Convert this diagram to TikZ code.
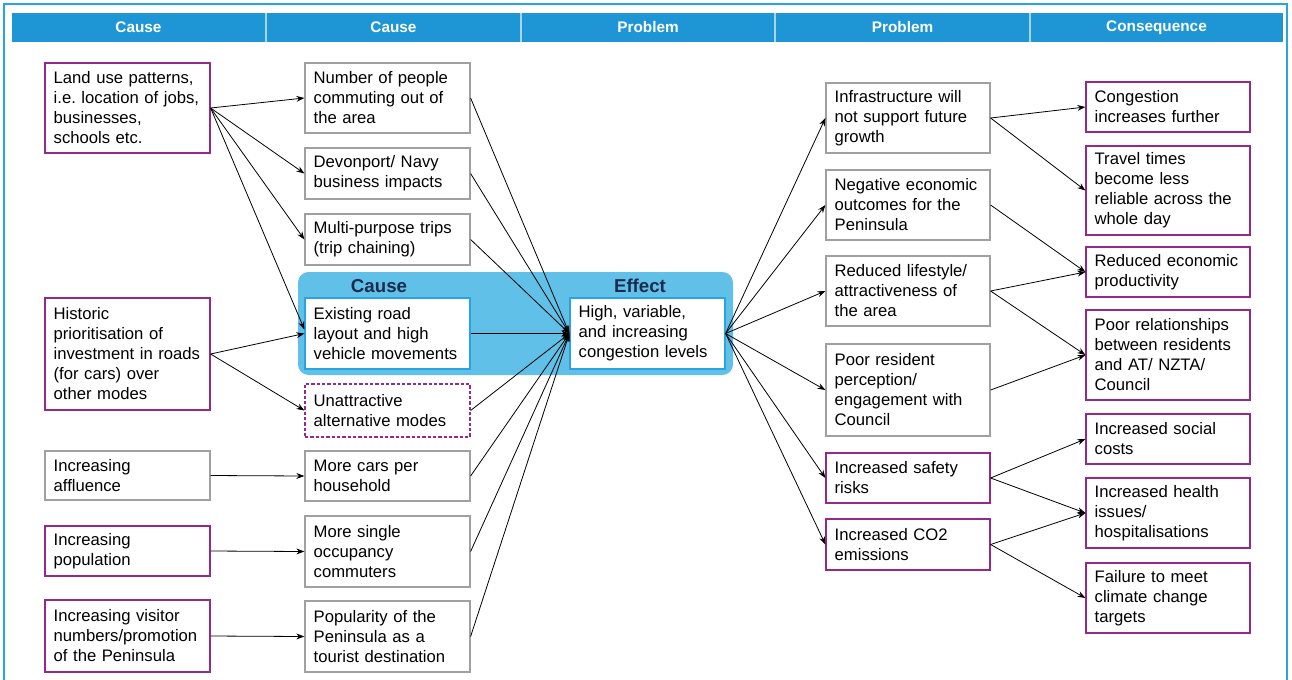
\documentclass[tikz,border=0pt]{standalone}
\usepackage{fontspec}
\setmainfont{Liberation Sans}
\usetikzlibrary{arrows.meta}
\definecolor{framecol}{RGB}{40,165,224}
\definecolor{headcol}{RGB}{30,150,214}
\definecolor{bandcol}{RGB}{96,192,232}
\definecolor{purp}{RGB}{150,40,140}
\definecolor{boxgrey}{RGB}{160,160,160}
\definecolor{bluebox}{RGB}{40,165,224}
\definecolor{navy}{RGB}{28,44,78}
\tikzset{
  box/.style={draw, fill=white, line width=0.9pt, align=left, inner xsep=6.5pt, inner ysep=0pt,
    font=\fontsize{12.5}{15}\selectfont\frenchspacing, anchor=center},
  greybox/.style={box, draw=boxgrey},
  purpbox/.style={box, draw=purp},
  bluebx/.style={box, draw=bluebox},
  dashbox/.style={box, draw=purp, dash pattern=on 2.5pt off 1.5pt},
  colL/.style={minimum width=123.75pt, text width=110.75pt},
  colE/.style={minimum width=116.25pt, text width=103.25pt},
  colP/.style={minimum width=123pt, text width=110pt},
  headtxt/.style={text=white, font=\bfseries\fontsize{11.5}{13}\selectfont},
  bandtxt/.style={text=navy, font=\bfseries\fontsize{14}{16}\selectfont},
  arr/.style={-{Stealth[length=6pt,width=4.4pt]}, line width=0.6pt, black}
}
\begin{document}
\begin{tikzpicture}[x=0.75pt,y=-0.75pt]
\useasboundingbox (0,0) rectangle (1292,679);
\fill[white] (0,0) rectangle (1292,679);
\draw[framecol, line width=1.5pt] (4,4) rectangle (1287,720);
% header
\fill[headcol] (12,13) rectangle (1283,42);
\foreach \xx in {266,521,775,1030} \draw[white!60!headcol, line width=0.8pt] (\xx,13) -- (\xx,42);
\node[headtxt] (h1) at (138.5,27.5) {Cause};
\node[headtxt] (h2) at (393.5,27.5) {Cause};
\node[headtxt] (h3) at (648,27.5) {Problem};
\node[headtxt] (h4) at (902.5,27.5) {Problem};
\node[headtxt] (h5) at (1156.5,27.5) {Consequence};
% band
\node[fill=bandcol, rounded corners=8pt, minimum width=326.25pt, minimum height=77.25pt, inner sep=0pt] (band) at (515.5,323.5) {};
\node[bandtxt] (causelbl) at (379,286) {Cause};
\node[bandtxt] (effectlbl) at (640,286) {Effect};
% column 1
\node[purpbox, colL, minimum height=67.5pt] (L1) at (127.5,108) {Land use patterns,\\i.e. location of jobs,\\businesses,\\schools etc.};
\node[purpbox, colL, minimum height=84pt] (L2) at (127.5,354) {Historic\\prioritisation of\\investment in roads\\(for cars) over\\other modes};
\node[greybox, colL, minimum height=36.75pt] (L3) at (127.5,475.5) {Increasing\\affluence};
\node[purpbox, colL, minimum height=37.5pt] (L4) at (127.5,551) {Increasing\\population};
\node[purpbox, colL, minimum height=54pt] (L5) at (127.5,636) {Increasing visitor\\numbers/promotion\\of the Peninsula};
% column 2
\node[greybox, colL, minimum height=52.5pt] (M1) at (387.5,98) {Number of people\\commuting out of\\the area};
\node[greybox, colL, minimum height=38.25pt] (M2) at (387.5,173.5) {Devonport/ Navy\\business impacts};
\node[greybox, colL, minimum height=38.25pt] (M3) at (387.5,239.5) {Multi-purpose trips\\(trip chaining)};
\node[bluebx, colL, minimum height=53.25pt] (M4) at (387.5,333.5) {Existing road\\layout and high\\vehicle movements};
\node[dashbox, colL, minimum height=39.75pt] (M5) at (387.5,410.5) {Unattractive\\alternative modes};
\node[greybox, colL, minimum height=37.5pt] (M6) at (387.5,476) {More cars per\\household};
\node[greybox, colL, minimum height=53.25pt] (M7) at (387.5,551.5) {More single\\occupancy\\commuters};
\node[greybox, colL, minimum height=53.25pt] (M8) at (387.5,636.5) {Popularity of the\\Peninsula as a\\tourist destination};
% effect
\node[bluebx, colE, minimum height=53.25pt] (E) at (647.5,333.5) {High, variable,\\and increasing\\congestion levels};
% column 4
\node[greybox, colP, minimum height=52.5pt] (P1) at (908,118) {Infrastructure will\\not support future\\growth};
\node[greybox, colP, minimum height=52.5pt] (P2) at (908,205) {Negative economic\\outcomes for the\\Peninsula};
\node[greybox, colP, minimum height=52.5pt] (P3) at (908,291) {Reduced lifestyle/\\attractiveness of\\the area};
\node[greybox, colP, minimum height=69pt] (P4) at (908,390) {Poor resident\\perception/\\engagement with\\Council};
\node[purpbox, colP, minimum height=37.5pt] (P5) at (908,478) {Increased safety\\risks};
\node[purpbox, colP, minimum height=38.25pt] (P6) at (908,544.5) {Increased CO2\\emissions};
% column 5
\node[purpbox, colP, minimum height=37.5pt] (C1) at (1168,107) {Congestion\\increases further};
\node[purpbox, colP, minimum height=66.75pt] (C2) at (1168,190.5) {Travel times\\become less\\reliable across the\\whole day};
\node[purpbox, colP, minimum height=37.5pt] (C3) at (1168,272) {Reduced economic\\productivity};
\node[purpbox, colP, minimum height=67.5pt] (C4) at (1168,355) {Poor relationships\\between residents\\and AT/ NZTA/\\Council};
\node[purpbox, colP, minimum height=37.5pt] (C5) at (1168,439) {Increased social\\costs};
\node[purpbox, colP, minimum height=52.5pt] (C6) at (1168,513) {Increased health\\issues/\\hospitalisations};
\node[purpbox, colP, minimum height=52.5pt] (C7) at (1168,598) {Failure to meet\\climate change\\targets};
% connectors col1 -> col2
\foreach \t in {M1,M2,M3} \draw[arr] (L1.east) -- (\t.west);
\draw[arr] (L1.east) -- ([yshift=3pt]M4.west);
\draw[arr] (L2.east) -- (M4.west);
\draw[arr] (L2.east) -- (M5.west);
\draw[arr] (L3.east) -- (M6.west);
\draw[arr] (L4.east) -- (M7.west);
\draw[arr] (L5.east) -- (M8.west);
% col2 -> effect
\foreach \s in {M1,M2,M3,M4,M5,M6,M7,M8} \draw[arr] (\s.east) -- (E.west);
% effect -> problems
\foreach \t in {P1,P2,P3,P4,P5,P6} \draw[arr] (E.east) -- (\t.west);
% problems -> consequences
\draw[arr] (P1.east) -- (C1.west);
\draw[arr] (P1.east) -- (C2.west);
\draw[arr] (P2.east) -- (C3.west);
\draw[arr] (P3.east) -- (C3.west);
\draw[arr] (P3.east) -- (C4.west);
\draw[arr] (P4.east) -- (C4.west);
\draw[arr] (P5.east) -- (C5.west);
\draw[arr] (P5.east) -- (C6.west);
\draw[arr] (P6.east) -- (C6.west);
\draw[arr] (P6.east) -- (C7.west);
\end{tikzpicture}
\end{document}
